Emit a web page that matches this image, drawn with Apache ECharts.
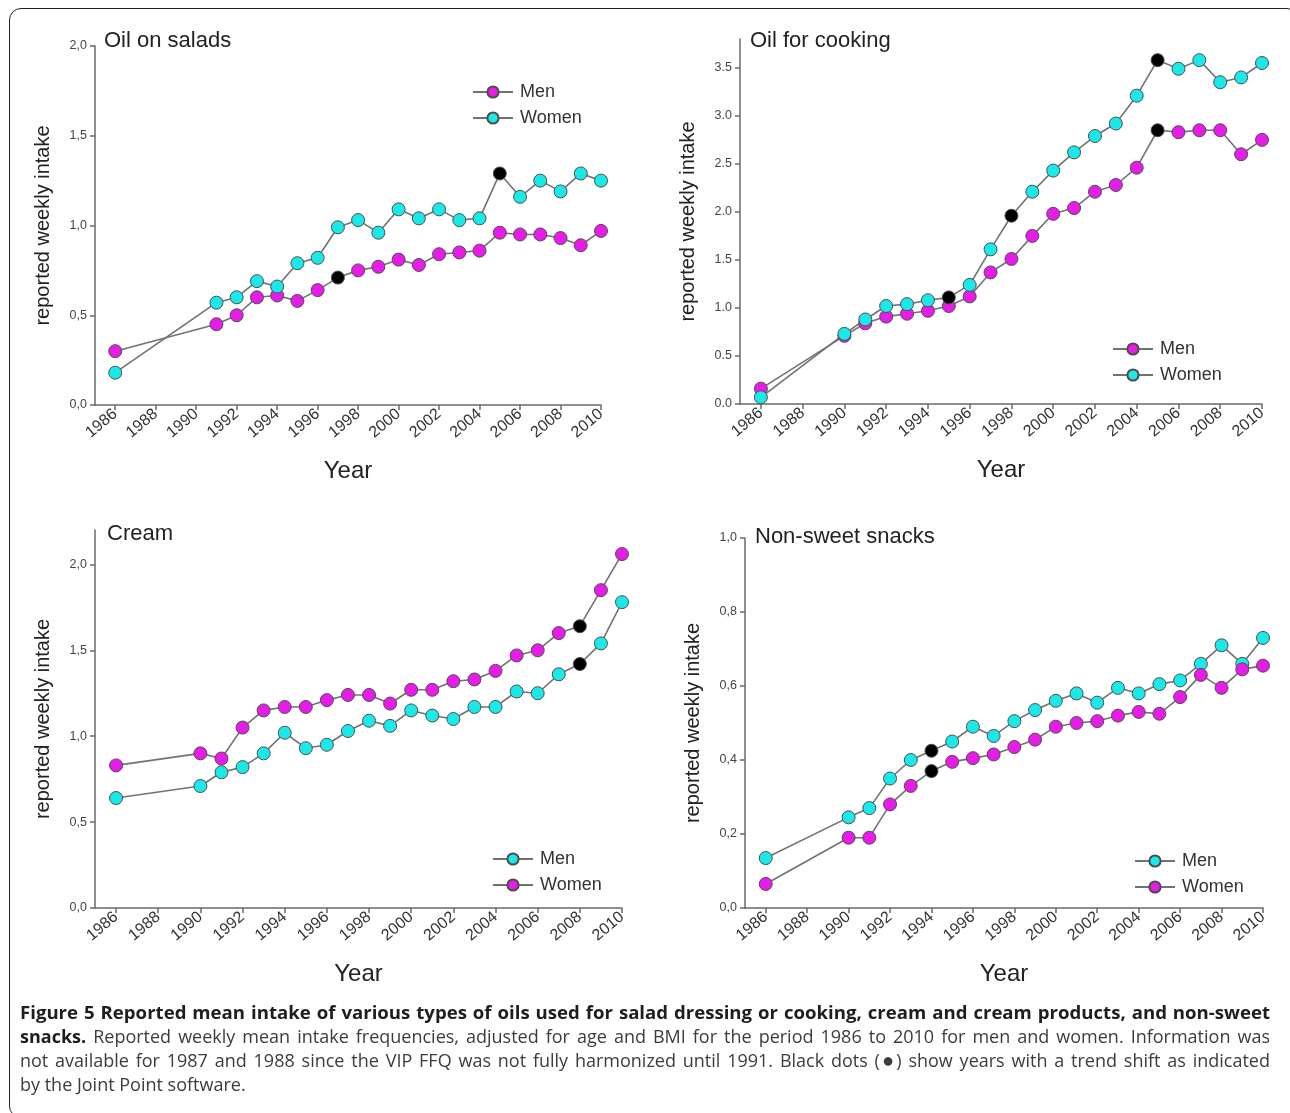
<!DOCTYPE html>
<html>
<head>
<meta charset="utf-8">
<script src="https://cdn.jsdelivr.net/npm/echarts@6/dist/echarts.min.js"></script>
<style>
  html, body { margin: 0; padding: 0; background: #fff; }
  #wrap { position: relative; width: 1290px; height: 1113px; overflow: hidden; }
  #frame { position: absolute; left: 9px; top: 8px; width: 1290px; height: 1110px;
           border: 1.5px solid #222; border-radius: 12px; box-sizing: border-box; }
  #chart { position: absolute; left: 0; top: 0; width: 1290px; height: 1000px; }
  #caption { position: absolute; left: 20px; top: 1000px; width: 1250px;
             font-family: "Open Sans", sans-serif; font-size: 18px; line-height: 24px; color: #3c3c3c; }
  #caption div { white-space: nowrap; text-align: justify; text-align-last: justify; }
  #caption div.last { text-align-last: left; }
  #caption b { color: #1e1e1e; font-weight: 700; }
</style>
</head>
<body>
<div id="wrap">
  <div id="frame"></div>
  <div id="chart"></div>
  <div id="caption">
    <div style="font-size:18.6px"><b>Figure 5 Reported mean intake of various types of oils used for salad dressing or cooking, cream and cream products, and non-sweet</b></div>
    <div><b>snacks.</b> Reported weekly mean intake frequencies, adjusted for age and BMI for the period 1986 to 2010 for men and women. Information was</div>
    <div>not available for 1987 and 1988 since the VIP FFQ was not fully harmonized until 1991. Black dots (<span style="font-size:20px">●</span>) show years with a trend shift as indicated</div>
    <div class="last">by the Joint Point software.</div>
  </div>
</div>
<script>
// ---------- DATA ----------
const yearTicks = [1986, 1988, 1990, 1992, 1994, 1996, 1998, 2000, 2002, 2004, 2006, 2008, 2010];

// Panel 1: Oil on salads (no 1990 survey)
const saladYears = [1986, 1991, 1992, 1993, 1994, 1995, 1996, 1997, 1998, 1999, 2000, 2001, 2002, 2003, 2004, 2005, 2006, 2007, 2008, 2009, 2010];
const saladMen   = [0.30, 0.45, 0.50, 0.60, 0.61, 0.58, 0.64, 0.71, 0.75, 0.77, 0.81, 0.78, 0.84, 0.85, 0.86, 0.96, 0.95, 0.95, 0.93, 0.89, 0.97];
const saladWomen = [0.18, 0.57, 0.60, 0.69, 0.66, 0.79, 0.82, 0.99, 1.03, 0.96, 1.09, 1.04, 1.09, 1.03, 1.04, 1.29, 1.16, 1.25, 1.19, 1.29, 1.25];
const saladMenShift = [1997];
const saladWomenShift = [2005];
const saladTicks = [0, 0.5, 1.0, 1.5, 2.0];

// Panel 2: Oil for cooking
const years = [1986, 1990, 1991, 1992, 1993, 1994, 1995, 1996, 1997, 1998, 1999, 2000, 2001, 2002, 2003, 2004, 2005, 2006, 2007, 2008, 2009, 2010];
const cookMen   = [0.16, 0.71, 0.84, 0.91, 0.94, 0.97, 1.02, 1.12, 1.37, 1.51, 1.75, 1.98, 2.04, 2.21, 2.28, 2.46, 2.85, 2.83, 2.85, 2.85, 2.60, 2.75];
const cookWomen = [0.07, 0.73, 0.88, 1.02, 1.04, 1.08, 1.11, 1.24, 1.61, 1.96, 2.21, 2.43, 2.62, 2.79, 2.92, 3.21, 3.58, 3.49, 3.58, 3.35, 3.40, 3.55];
const cookMenShift = [2005];
const cookWomenShift = [1995, 1998, 2005];
const cookTicks = [0, 0.5, 1.0, 1.5, 2.0, 2.5, 3.0, 3.5];

// Panel 3: Cream
const creamMen   = [0.64, 0.71, 0.79, 0.82, 0.90, 1.02, 0.93, 0.95, 1.03, 1.09, 1.06, 1.15, 1.12, 1.10, 1.17, 1.17, 1.26, 1.25, 1.36, 1.42, 1.54, 1.78];
const creamWomen = [0.83, 0.90, 0.87, 1.05, 1.15, 1.17, 1.17, 1.21, 1.24, 1.24, 1.19, 1.27, 1.27, 1.32, 1.33, 1.38, 1.47, 1.50, 1.60, 1.64, 1.85, 2.06];
const creamMenShift = [2008];
const creamWomenShift = [2008];
const creamTicks = [0, 0.5, 1.0, 1.5, 2.0];

// Panel 4: Non-sweet snacks
const snackMen   = [0.135, 0.245, 0.27, 0.35, 0.40, 0.425, 0.45, 0.49, 0.465, 0.505, 0.535, 0.56, 0.58, 0.555, 0.595, 0.58, 0.605, 0.615, 0.66, 0.71, 0.66, 0.73];
const snackWomen = [0.065, 0.19, 0.19, 0.28, 0.33, 0.37, 0.395, 0.405, 0.415, 0.435, 0.455, 0.49, 0.50, 0.505, 0.52, 0.53, 0.525, 0.57, 0.63, 0.595, 0.645, 0.655];
const snackMenShift = [1994];
const snackWomenShift = [1994];
const snackTicks = [0, 0.2, 0.4, 0.6, 0.8, 1.0];

// ---------- STYLE ----------
const CYAN = '#1be8e8';
const MAGENTA = '#e81ce8';
const FONT = 'Liberation Sans';
const SEP = ' · ';

const panels = [
  { title: 'Oil on salads', yrs: saladYears, men: saladMen, women: saladWomen, menShift: saladMenShift, womenShift: saladWomenShift,
    menColor: MAGENTA, womenColor: CYAN, ticks: saladTicks, max: 2.0, comma: true,
    grid: { left: 95, top: 46, width: 506, height: 359 }, titlePos: { left: 104, top: 30 }, legendPos: { left: 472, top: 83 } },
  { title: 'Oil for cooking', yrs: years, men: cookMen, women: cookWomen, menShift: cookMenShift, womenShift: cookWomenShift,
    menColor: MAGENTA, womenColor: CYAN, ticks: cookTicks, max: 3.8, comma: false,
    grid: { left: 740, top: 39, width: 522, height: 365 }, titlePos: { left: 750, top: 30 }, legendPos: { left: 1112, top: 340 } },
  { title: 'Cream', yrs: years, men: creamMen, women: creamWomen, menShift: creamMenShift, womenShift: creamWomenShift,
    menColor: CYAN, womenColor: MAGENTA, ticks: creamTicks, max: 2.2, comma: true,
    grid: { left: 95, top: 530, width: 527, height: 378 }, titlePos: { left: 107, top: 523 }, legendPos: { left: 492, top: 850 } },
  { title: 'Non-sweet snacks', yrs: years, men: snackMen, women: snackWomen, menShift: snackMenShift, womenShift: snackWomenShift,
    menColor: CYAN, womenColor: MAGENTA, ticks: snackTicks, max: 1.0, comma: true,
    grid: { left: 745, top: 538, width: 518, height: 370 }, titlePos: { left: 755, top: 526 }, legendPos: { left: 1134, top: 852 } }
];

function buildData(yrs, vals, shift) {
  return yrs.map((y, i) => {
    const d = { value: [y, vals[i]] };
    if (shift.includes(y)) d.itemStyle = { color: '#000000' };
    return d;
  });
}

const option = {
  animation: false,
  backgroundColor: 'transparent',
  title: [], grid: [], xAxis: [], yAxis: [], legend: [], series: []
};

panels.forEach((p, k) => {
  option.title.push({ text: p.title, left: p.titlePos.left, top: p.titlePos.top, padding: 0,
    textStyle: { fontFamily: FONT, fontSize: 22, fontWeight: 'normal', color: '#222' } });
  option.grid.push(Object.assign({ containLabel: false }, p.grid));
  option.xAxis.push({
    type: 'value', gridIndex: k, min: 1985, max: 2010,
    name: 'Year', nameLocation: 'middle', nameGap: 54,
    nameTextStyle: { fontFamily: FONT, fontSize: 24, color: '#222' },
    splitLine: { show: false },
    axisLine: { show: true, onZero: false, lineStyle: { color: '#6a6a6a', width: 1.5 } },
    axisTick: { show: true, customValues: yearTicks, length: 5, lineStyle: { color: '#6a6a6a', width: 1.5 } },
    axisLabel: { customValues: yearTicks, rotate: 40, margin: 7, formatter: v => String(v),
      fontFamily: FONT, fontSize: 16, color: '#333' }
  });
  option.yAxis.push({
    type: 'value', gridIndex: k, min: 0, max: p.max,
    name: 'reported weekly intake', nameLocation: 'middle', nameGap: 42,
    nameTextStyle: { fontFamily: FONT, fontSize: 20, color: '#222' },
    splitLine: { show: false },
    axisLine: { show: true, onZero: false, lineStyle: { color: '#6a6a6a', width: 1.5 } },
    axisTick: { show: true, customValues: p.ticks, length: 5, lineStyle: { color: '#6a6a6a', width: 1.5 } },
    axisLabel: { customValues: p.ticks, margin: 8,
      formatter: v => { const s = Number(v).toFixed(1); return p.comma ? s.replace('.', ',') : s; },
      fontFamily: FONT, fontSize: 12.5, color: '#444' }
  });
  const menName = p.title + SEP + 'Men';
  const womenName = p.title + SEP + 'Women';
  option.legend.push({
    data: [menName, womenName], orient: 'vertical', left: p.legendPos.left, top: p.legendPos.top,
    itemWidth: 40, itemHeight: 14, itemGap: 8, padding: 0, selectedMode: false,
    formatter: n => n.split(SEP)[1],
    textStyle: { fontFamily: FONT, fontSize: 18, color: '#333', padding: [0, 0, 0, 2] }
  });
  [[menName, p.men, p.menShift, p.menColor], [womenName, p.women, p.womenShift, p.womenColor]].forEach(([name, vals, shift, color]) => {
    option.series.push({
      type: 'line', name: name, xAxisIndex: k, yAxisIndex: k,
      data: buildData(p.yrs, vals, shift),
      symbol: 'circle', symbolSize: 13,
      lineStyle: { color: '#727272', width: 1.6 },
      itemStyle: { color: color, borderColor: '#4d4d4d', borderWidth: 1 },
      emphasis: { disabled: true }
    });
  });
});

const chart = echarts.init(document.getElementById('chart'), null, { renderer: 'canvas' });
chart.setOption(option);
</script>
</body>
</html>
